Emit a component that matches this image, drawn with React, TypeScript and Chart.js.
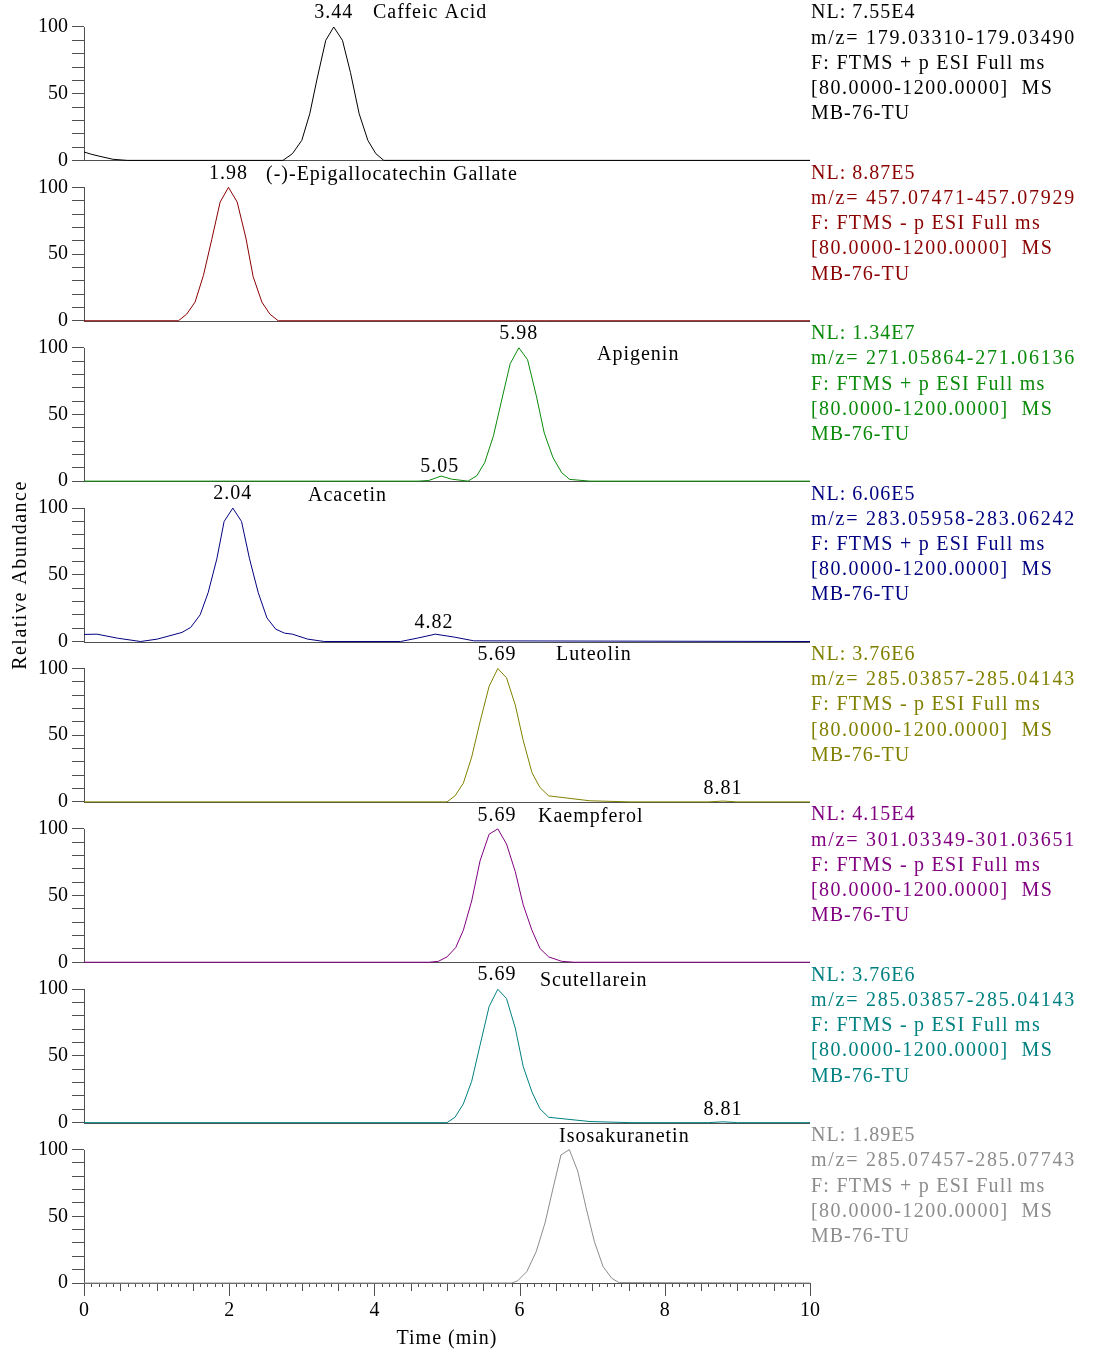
import React, { useEffect, useRef } from 'react';
import { Chart, registerables } from 'chart.js';

Chart.register(...registerables);

// ---------- data (retention time in min, relative abundance in %) ----------
const caffeicT = [0, 0.1, 0.22, 0.4, 0.6, 2.74, 2.87, 3.0, 3.11, 3.21, 3.33, 3.44, 3.56, 3.67, 3.79, 3.91, 4.02, 4.13, 10];
const caffeicY = [6.3, 4.6, 3.0, 0.8, 0, 0, 5, 15, 35, 61, 90, 100, 90, 66, 35, 15, 5, 0, 0];

const egcgT = [0, 1.3, 1.415, 1.53, 1.645, 1.76, 1.875, 1.99, 2.11, 2.23, 2.33, 2.45, 2.56, 2.675, 10];
const egcgY = [0, 0, 5, 14, 34, 61, 89, 100, 89, 62, 33, 14, 5, 0, 0];

const apigeninT = [0, 4.6, 4.75, 4.92, 5.06, 5.29, 5.41, 5.52, 5.64, 5.75, 5.87, 5.99, 6.11, 6.23, 6.34, 6.46, 6.58, 6.69, 6.97, 10];
const apigeninY = [0, 0, 0.5, 3.8, 1.5, 0, 4, 14, 34, 60, 88, 100, 91, 64, 36, 17.6, 6.3, 1.3, 0, 0];

const acacetinT = [0, 0.18, 0.46, 0.78, 1.01, 1.35, 1.47, 1.6, 1.71, 1.83, 1.93, 2.05, 2.17, 2.28, 2.4, 2.52, 2.64, 2.76, 2.87, 3.08, 3.31, 4.36, 4.59, 4.84, 5.1, 5.37, 10];
const acacetinY = [5.3, 5.5, 2.5, 0, 1.8, 6.8, 10.6, 20, 36.6, 62, 90, 100, 90, 62, 36.6, 17.7, 9.3, 6.3, 5.5, 1.8, 0, 0, 2.5, 5.5, 3.3, 0.5, 0];

const luteolinT = [0, 5.0, 5.11, 5.225, 5.34, 5.455, 5.58, 5.7, 5.82, 5.94, 6.05, 6.17, 6.28, 6.4, 6.97, 7.52, 8.6, 8.8, 9.0, 10];
const luteolinY = [0, 0, 4.5, 14, 33.6, 60, 86.6, 100, 93, 72.7, 46, 22, 10.8, 4.5, 0.8, 0, 0, 0.6, 0, 0];

const kaempferolT = [0, 4.75, 4.88, 5.0, 5.12, 5.225, 5.34, 5.455, 5.58, 5.7, 5.82, 5.94, 6.05, 6.17, 6.28, 6.4, 6.58, 6.75, 10];
const kaempferolY = [0, 0, 0.7, 4, 11, 24, 46, 76, 96, 100, 88.6, 68, 43, 24, 10.4, 4, 0.7, 0, 0];

const scutellareinT = [0, 5.0, 5.11, 5.225, 5.34, 5.455, 5.58, 5.7, 5.82, 5.94, 6.05, 6.17, 6.28, 6.4, 6.97, 7.52, 8.6, 8.8, 9.0, 10];
const scutellareinY = [0, 0, 4, 14, 31, 58, 87, 100, 93, 71, 42, 23, 10.4, 4, 0.8, 0, 0, 0.6, 0, 0];

const isosakuranetinT = [0, 5.89, 5.97, 6.1, 6.23, 6.35, 6.465, 6.57, 6.685, 6.8, 6.915, 7.03, 7.15, 7.27, 7.37, 10];
const isosakuranetinY = [0, 0, 1.5, 8.6, 23.7, 45, 72, 96, 100, 84, 56.6, 31, 12.3, 3.5, 0.3, 0];

const compoundNames = ['Caffeic Acid', '(-)-Epigallocatechin Gallate', 'Apigenin', 'Acacetin', 'Luteolin', 'Kaempferol', 'Scutellarein', 'Isosakuranetin'];
const nlValues = ['7.55E4', '8.87E5', '1.34E7', '6.06E5', '3.76E6', '4.15E4', '3.76E6', '1.89E5'];
const mzRanges = ['179.03310-179.03490', '457.07471-457.07929', '271.05864-271.06136', '283.05958-283.06242', '285.03857-285.04143', '301.03349-301.03651', '285.03857-285.04143', '285.07457-285.07743'];
const polarities = ['+', '-', '+', '+', '-', '-', '-', '+'];
const scanRange = '[80.0000-1200.0000]  MS';
const sampleName = 'MB-76-TU';
const xTickLabels = ['0', '2', '4', '6', '8', '10'];
const yTickLabels = ['0', '50', '100'];

const seriesT = [caffeicT, egcgT, apigeninT, acacetinT, luteolinT, kaempferolT, scutellareinT, isosakuranetinT];
const seriesY = [caffeicY, egcgY, apigeninY, acacetinY, luteolinY, kaempferolY, scutellareinY, isosakuranetinY];

// peak RT labels: [panel, text, time, abundance-level]
const peakLabels: [number, string, number, number][] = [
  [0, '3.44', 3.44, 110.6],
  [1, '1.98', 1.99, 110],
  [2, '5.98', 5.99, 110.6],
  [2, '5.05', 4.9, 10.6],
  [3, '2.04', 2.05, 110.6],
  [3, '4.82', 4.82, 14.4],
  [4, '5.69', 5.69, 110.6],
  [4, '8.81', 8.8, 9.8],
  [5, '5.69', 5.69, 110.2],
  [6, '5.69', 5.69, 110.6],
  [6, '8.81', 8.8, 9.8],
];
// compound name position: [left time, abundance-level]
const namePos: [number, number][] = [
  [3.98, 110.6], [2.507, 109.4], [7.066, 94.7], [3.085, 109], [6.501, 110], [6.253, 109.4], [6.281, 106], [6.543, 110],
];

// ---------- styles ----------
const colors = ['#000000', '#8b0000', '#0a8a0a', '#000080', '#808000', '#800080', '#008080', '#8c8c8c'];
const textColors = ['#000000', '#8b0000', '#0a8a0a', '#000080', '#808000', '#800080', '#008080', '#8c8c8c'];
const infoSpacing = [1, 1.75, 1.25, 1.45, 1];
const SERIF = "'Liberation Serif', 'DejaVu Serif', serif";
const Y_MAX = 120.24;

const overlay = {
  id: 'overlay',
  beforeDatasetsDraw(chart: any) {
    const ctx = chart.ctx;
    const xs = chart.scales.x;
    ctx.save();
    ctx.strokeStyle = '#505050';
    ctx.lineWidth = 1;
    for (let i = 0; i < 8; i++) {
      const ys = chart.scales['y' + i];
      const y0 = Math.round(ys.getPixelForValue(0)) + 0.5;
      const y100 = Math.round(ys.getPixelForValue(100));
      const ax = Math.round(xs.left) + 0.5;
      ctx.beginPath();
      ctx.moveTo(ax, y100);
      ctx.lineTo(ax, y0);
      if (i < 7) {
        ctx.moveTo(xs.left, y0);
        ctx.lineTo(xs.right, y0);
      }
      ctx.stroke();
    }
    // x-axis minor / medium / major ticks
    const yb = Math.round(xs.top);
    ctx.beginPath();
    for (let k = 0; k <= 100; k++) {
      const px = Math.round(xs.getPixelForValue(k / 10)) + 0.5;
      const len = k % 20 === 0 ? 13 : k % 5 === 0 ? 8 : 4;
      ctx.moveTo(px, yb);
      ctx.lineTo(px, yb + len);
    }
    ctx.stroke();
    ctx.restore();
  },
  afterDraw(chart: any) {
    const ctx = chart.ctx;
    const xs = chart.scales.x;
    const area = chart.chartArea;
    ctx.save();
    ctx.font = `20px ${SERIF}`;
    (ctx as any).letterSpacing = '1px';
    // peak labels
    ctx.textBaseline = 'middle';
    for (const [p, txt, t, v] of peakLabels) {
      const ys = chart.scales['y' + p];
      ctx.fillStyle = '#000';
      ctx.textAlign = 'center';
      ctx.fillText(txt, xs.getPixelForValue(t), ys.getPixelForValue(v));
    }
    for (let i = 0; i < 8; i++) {
      const ys = chart.scales['y' + i];
      ctx.fillStyle = '#000';
      ctx.textAlign = 'left';
      ctx.textBaseline = 'middle';
      (ctx as any).letterSpacing = '1px';
      ctx.fillText(compoundNames[i], xs.getPixelForValue(namePos[i][0]), ys.getPixelForValue(namePos[i][1]));
      // right-side info block
      const base = ys.getPixelForValue(100) - 27 + 18.5;
      ctx.fillStyle = textColors[i];
      ctx.textBaseline = 'alphabetic';
      const lines = [
        'NL: ' + nlValues[i],
        'm/z= ' + mzRanges[i],
        'F: FTMS ' + polarities[i] + ' p ESI Full ms',
        scanRange,
        sampleName,
      ];
      lines.forEach((ln, k) => {
        (ctx as any).letterSpacing = infoSpacing[k] + 'px';
        ctx.fillText(ln, area.right + 1, base + 25.2 * k);
      });
    }
    // axis titles
    (ctx as any).letterSpacing = '1px';
    ctx.fillStyle = '#000';
    ctx.textAlign = 'center';
    ctx.textBaseline = 'middle';
    ctx.fillText('Time (min)', xs.getPixelForValue(5), 1339);
    ctx.save();
    (ctx as any).letterSpacing = '1.5px';
    ctx.translate(21, 575);
    ctx.rotate(-Math.PI / 2);
    ctx.fillText('Relative Abundance', 0, 0);
    ctx.restore();
    ctx.restore();
  },
};

export default function App() {
  const ref = useRef<HTMLCanvasElement | null>(null);
  useEffect(() => {
    document.body.style.margin = '0';
    const canvas = ref.current;
    if (!canvas) return;
    const datasets = seriesT.map((ts, i) => ({
      label: compoundNames[i],
      data: ts.map((t, j) => ({ x: t, y: seriesY[i][j] })),
      borderColor: colors[i],
      borderWidth: 1,
      pointRadius: 0,
      tension: 0,
      fill: false,
      xAxisID: 'x',
      yAxisID: 'y' + i,
      clip: false as any,
    }));
    const scales: any = {
      x: {
        type: 'linear',
        position: 'bottom',
        min: 0,
        max: 10,
        afterBuildTicks: (s: any) => {
          s.ticks = Array.from({ length: 101 }, (_, k) => ({ value: k / 10 }));
        },
        afterFit: (s: any) => {
          s.height = 70;
        },
        ticks: {
          autoSkip: false,
          maxRotation: 0,
          padding: 3,
          color: '#000',
          font: { family: SERIF, size: 20 },
          callback: (v: any) => {
            const r = Math.round(Number(v) * 10);
            return r % 20 === 0 ? xTickLabels[r / 20] : '';
          },
        },
        grid: { display: true, drawOnChartArea: false, drawTicks: true, tickLength: 13, tickColor: 'rgba(0,0,0,0)' },
        border: { display: true, color: '#505050', width: 1 },
      },
    };
    // left stacked boxes are placed in reverse definition order, so define bottom panel first
    for (let i = 7; i >= 0; i--) {
      scales['y' + i] = {
        type: 'linear',
        position: 'left',
        stack: 'panels',
        stackWeight: 1,
        min: 0,
        max: Y_MAX,
        afterBuildTicks: (s: any) => {
          s.ticks = Array.from({ length: 11 }, (_, k) => ({ value: k * 10 }));
        },
        afterFit: (s: any) => {
          s.width = 84;
          s.paddingTop = 0;
          s.paddingBottom = 0;
        },
        ticks: {
          autoSkip: false,
          padding: 4,
          color: '#000',
          font: { family: SERIF, size: 20 },
          callback: (v: any) => {
            const n = Math.round(Number(v));
            return n % 50 === 0 ? yTickLabels[n / 50] : '';
          },
        },
        grid: { display: true, drawOnChartArea: false, drawTicks: true, tickLength: 12, tickColor: '#505050' },
        border: { display: false },
      };
    }
    const chart = new Chart(canvas, {
      type: 'line',
      data: { datasets },
      options: {
        responsive: false,
        animation: false,
        devicePixelRatio: 1,
        layout: { padding: { left: 0, right: 286, top: 0, bottom: 0 } },
        plugins: { legend: { display: false }, tooltip: { enabled: false } },
        scales,
      },
      plugins: [overlay],
    });
    return () => chart.destroy();
  }, []);
  return (
    <div style={{ width: 1096, height: 1353, background: '#fff' }}>
      <canvas ref={ref} width={1096} height={1353} style={{ display: 'block' }} />
    </div>
  );
}
